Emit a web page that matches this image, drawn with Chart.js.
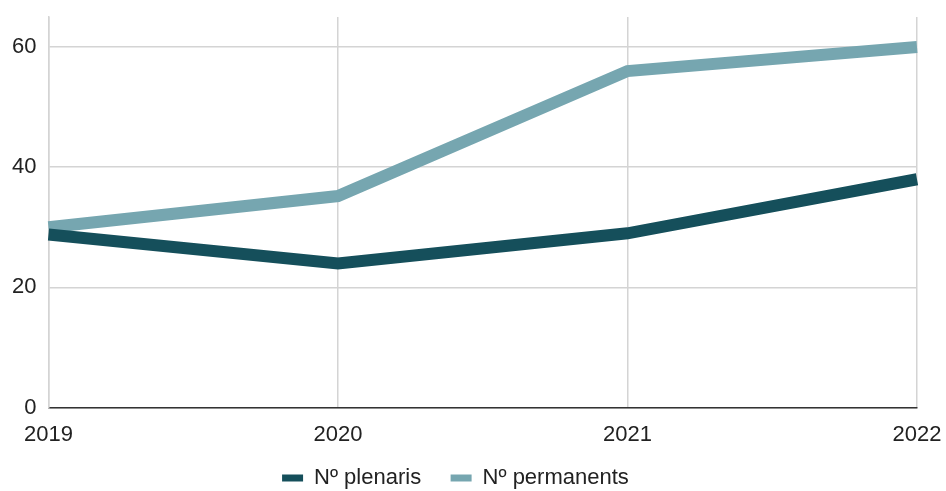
<!DOCTYPE html>
<html>
<head>
<meta charset="utf-8">
<script src="https://cdn.jsdelivr.net/npm/chart.js@4"></script>
<style>
  html, body { margin: 0; padding: 0; background: #fff; }
  #wrap { width: 946px; height: 491px; }
</style>
</head>
<body>
<div id="wrap"><canvas id="lineChart"></canvas></div>
<script>
const years = ['2019', '2020', '2021', '2022'];
const plenaris = [28.8, 24, 29, 38];
const permanents = [30, 35.2, 56, 60];
const yTicks = [0, 20, 40, 60];

const font = { family: 'Liberation Sans', size: 22 };
// invisible trailing spaces, only to space the legend entries like the original
const legendGap = ['    ', ' '];

const ctx = document.getElementById('lineChart').getContext('2d');
new Chart(ctx, {
  type: 'line',
  data: {
    labels: years,
    datasets: [
      { label: 'Nº plenaris', data: plenaris, borderColor: '#154f5b', backgroundColor: '#154f5b', borderWidth: 12, pointRadius: 0, tension: 0 },
      { label: 'Nº permanents', data: permanents, borderColor: '#76a6b0', backgroundColor: '#76a6b0', borderWidth: 12, pointRadius: 0, tension: 0 }
    ]
  },
  options: {
    responsive: true,
    maintainAspectRatio: false,
    animation: false,
    layout: { padding: { top: 17, right: 29, left: 0, bottom: -8 } },
    plugins: {
      tooltip: { enabled: false },
      legend: {
        position: 'bottom',
        labels: {
          boxWidth: 21, boxHeight: 7, padding: 5, color: '#222', font,
          generateLabels: chart => Chart.defaults.plugins.legend.labels.generateLabels(chart)
            .map((l, i) => ({ ...l, text: l.text + legendGap[i], lineWidth: 0 }))
        }
      }
    },
    scales: {
      x: {
        offset: false,
        afterFit: s => { s.paddingLeft = 0; s.paddingRight = 0; },
        grid: { color: '#d4d4d4', lineWidth: 1.5, drawTicks: false },
        border: { color: '#333', width: 1.5 },
        ticks: { color: '#222', padding: 14, maxRotation: 0, font }
      },
      y: {
        min: 0,
        max: 65,
        afterBuildTicks: axis => { axis.ticks = yTicks.map(v => ({ value: v })); },
        afterFit: s => { s.paddingTop = 0; s.paddingBottom = 0; },
        grid: { color: '#d4d4d4', lineWidth: 1.5, drawTicks: false },
        border: { color: '#d4d4d4', width: 1.5 },
        ticks: { color: '#222', padding: 12, font }
      }
    }
  }
});
</script>
</body>
</html>
